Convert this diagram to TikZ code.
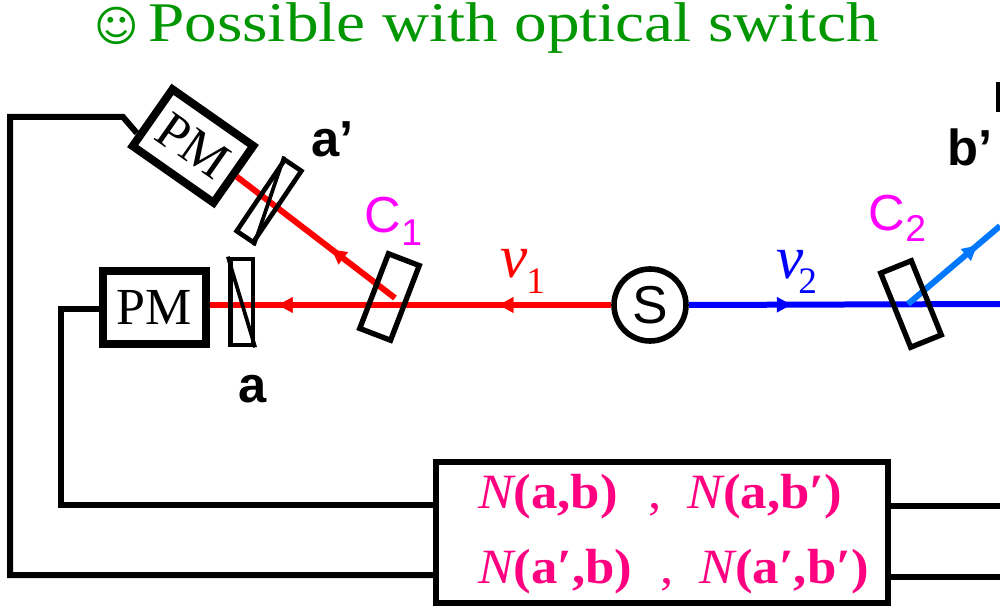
\documentclass[tikz,border=0pt]{standalone}
\usepackage{fontspec}
\setmainfont{Liberation Serif}
\newfontfamily\arialf{Liberation Sans}
\newfontfamily\djv{DejaVu Sans}
\usetikzlibrary{arrows.meta,decorations.markings,calc}
\definecolor{tgreen}{RGB}{0,150,0}
\definecolor{cmag}{RGB}{255,0,255}
\definecolor{npink}{RGB}{255,0,128}
\definecolor{lblue}{RGB}{0,119,255}
\begin{document}
\begin{tikzpicture}[x=0.75pt,y=-0.75pt,
  wire/.style={line width=4.5pt,line join=miter},
  beam/.style={line width=4.5pt},
  pmbox/.style={draw,line width=6pt,fill=white,minimum width=77pt,minimum height=55pt,inner sep=0pt,font=\fontsize{39}{39}\selectfont},
  polar/.style={draw,line width=3.5pt,minimum width=17pt,minimum height=64.5pt,inner sep=0pt},
  crystal/.style={draw,line width=4pt,minimum width=24.75pt,minimum height=60pt,inner sep=0pt},
  midarrow/.style={postaction={decorate},decoration={markings,mark=at position #1 with {\arrow{Triangle[length=11pt,width=11pt]}}}},
  lab/.style={font=\arialf\bfseries\fontsize{38}{38}\selectfont,anchor=base west,inner sep=0pt},
  clab/.style={font=\arialf\fontsize{38}{38}\selectfont,text=cmag,anchor=base west,inner sep=0pt},
  csub/.style={font=\arialf\fontsize{28}{28}\selectfont,text=cmag,anchor=base west,inner sep=0pt},
  nulab/.style={font=\itshape\fontsize{46}{46}\selectfont,anchor=base west,inner sep=0pt},
  nusub/.style={font=\fontsize{28}{28}\selectfont,anchor=base west,inner sep=0pt},
  ntext/.style={font=\fontsize{37}{37}\selectfont,text=npink,anchor=base west,inner sep=0pt,xscale=1.07},
]
\useasboundingbox (0,0) rectangle (1000,613);
\clip (0,0) rectangle (1000,613);

% title
\node[font=\djv\fontsize{32}{32}\selectfont,text=tgreen,inner sep=0pt] (smile) at (117,26) {☺};
\node[font=\fontsize{42}{42}\selectfont,text=tgreen,anchor=base west,inner sep=0pt,xscale=1.165] (title) at (148,42) {Possible with optical switch};

% source and detectors
\node[circle,draw,line width=4.2pt,minimum size=54pt,inner sep=0pt,font=\arialf\fontsize{40}{40}\selectfont] (S) at (650,305) {S};
\node[pmbox] (pma) at (154.5,307.5) {PM};
\node[pmbox,rotate=-35,minimum width=74pt,minimum height=52pt] (pmap) at (193,146) {PM};
\coordinate (r1) at (395,298);
\coordinate (r2) at (908,304);
\coordinate (bend) at (1000,304);
\coordinate (lbend) at (1000,226);

% beams
\draw[beam,red,midarrow=0.28,midarrow=0.83] (S.west) -- (S.west -| pma.east);
\draw[beam,red,midarrow=0.4] (r1) -- (pmap.east);
\draw[beam,blue,midarrow=0.33] (S.east) -- (bend);
\draw[beam,lblue,midarrow=0.75] (r2) -- (lbend);

% optics
\node[polar] (pola) at (241.5,302) {};
\draw[line width=2.8pt] (pola.north west) -- (pola.south east);
\node[polar,rotate=-34,minimum width=15pt] (polap) at (269,201) {};
\draw[line width=2.8pt] (polap.north west) -- (polap.south east);
\node[crystal,rotate=-21] (c1) at (389.5,297) {};
\node[crystal,rotate=22] (c2) at (911,304) {};

% counter box
\node[draw,line width=3.8pt,minimum width=339pt,minimum height=105.75pt,inner sep=0pt] (cnt) at (662,532.5) {};
\node[ntext] (n1) at (478,508) {{\itshape N}{\bfseries (a,b)}\hspace{22pt},\hspace{18pt}{\itshape N}{\bfseries (a,b′)}};
\node[ntext] (n2) at (478,583) {{\itshape N}{\bfseries (a′,b)}\hspace{20pt},\hspace{18pt}{\itshape N}{\bfseries (a′,b′)}};

% wires
\coordinate (wa1) at (61,309);
\coordinate (wa2) at (61,505);
\coordinate (wp0) at ($(pmap.north west)!0.78!(pmap.south west)$);
\coordinate (wp1) at (123,117);
\coordinate (wp2) at (10,117);
\coordinate (wp3) at (10,575);
\coordinate (wr1) at (1000,506);
\coordinate (wr2) at (1000,577);
\draw[wire] (pma.west |- wa1) -- (wa1) -- (wa2) -- (wa2 -| cnt.west);
\draw[wire] (wp0) -- (wp1) -- (wp2) -- (wp3) -- (wp3 -| cnt.west);
\draw[wire] (cnt.east |- wr1) -- (wr1);
\draw[wire] (cnt.east |- wr2) -- (wr2);
\fill (996,82) rectangle (1000,112);

% labels
\node[lab] (la) at (238,402) {a};
\node[lab] (lap) at (311,157) {a’};
\node[lab] (lbp) at (947,166) {b’};
\node[clab] (lc1) at (364,233) {C};
\node[csub] (lc1s) at (lc1.base east) [yshift=-9pt] {1};
\node[clab] (lc2) at (868,230) {C};
\node[csub] (lc2s) at (lc2.base east) [yshift=-9pt] {2};
\node[nulab,text=red] (nu1) at (500,277) {ν};
\node[nusub,text=red] (nu1s) at (526,293) {1};
\node[nulab,text=blue] (nu2) at (776,278) {ν};
\node[nusub,text=blue] (nu2s) at (798,293) {2};
\end{tikzpicture}
\end{document}
